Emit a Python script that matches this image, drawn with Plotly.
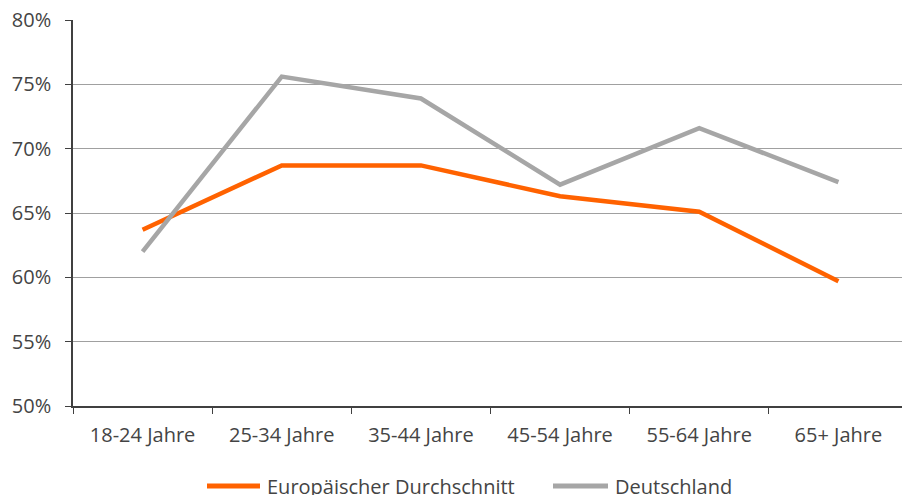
import plotly.graph_objects as go

categories = ["18-24 Jahre", "25-34 Jahre", "35-44 Jahre", "45-54 Jahre", "55-64 Jahre", "65+ Jahre"]
europe = [63.7, 68.7, 68.7, 66.3, 65.1, 59.7]
germany = [62.0, 75.6, 73.9, 67.2, 71.6, 67.4]
series_names = ["Europäischer Durchschnitt", "Deutschland"]
y_ticks = [50, 55, 60, 65, 70, 75, 80]
y_labels = [f"{v}%" for v in y_ticks]

ORANGE = "#FF6200"
GRAY = "#A6A6A6"
TEXT = "#444444"

# page body has an 8px default margin; figure coords = page coords - 8
OFF = 8
W, H = 910, 495
ML, MT = 73 - OFF, 20 - OFF
MR = W - (908 - OFF)
MB = H - (406 - OFF)
PW, PH = W - ML - MR, H - MT - MB

def px(x):
    return (x - OFF - ML) / PW

def py(y):
    return (H - MB - (y - OFF)) / PH

fig = go.Figure()
fig.add_trace(go.Scatter(x=categories, y=europe, mode="lines", name=series_names[0],
                         line=dict(color=ORANGE, width=4.5)))
fig.add_trace(go.Scatter(x=categories, y=germany, mode="lines", name=series_names[1],
                         line=dict(color=GRAY, width=4.5)))

font_family = "Open Sans, Lato, sans-serif"
FS = 20

legend_items = [(series_names[0], ORANGE, 207, 260, 265), (series_names[1], GRAY, 553, 608, 613)]
shapes = []
annotations = []
for name, col, x0, x1, xt in legend_items:
    shapes.append(dict(type="line", xref="paper", yref="paper", x0=px(x0), x1=px(x1),
                       y0=py(486), y1=py(486), line=dict(color=col, width=5)))
    annotations.append(dict(text=name, xref="paper", yref="paper", x=px(xt), y=py(486),
                            xanchor="left", yanchor="middle", showarrow=False,
                            font=dict(size=FS, color=TEXT, family=font_family)))

fig.update_layout(
    width=W, height=H,
    margin=dict(l=ML, r=MR, t=MT, b=MB),
    paper_bgcolor="white", plot_bgcolor="white",
    font=dict(family=font_family, size=FS, color=TEXT),
    showlegend=False,
    shapes=shapes,
    annotations=annotations,
    xaxis=dict(type="category", range=[-0.5, 5.5], showgrid=False, automargin=False,
               showline=True, linecolor="#404040", linewidth=1.5,
               ticks="outside", tickson="boundaries", ticklen=6, tickcolor="#404040",
               tickfont=dict(size=FS), ticklabelstandoff=10),
    yaxis=dict(range=[50, 80], tickvals=y_ticks, ticktext=y_labels, automargin=False,
               showgrid=True, gridcolor="#A0A0A0", gridwidth=1,
               showline=True, linecolor="#404040", linewidth=1.5,
               ticks="outside", ticklen=6, tickcolor="#404040",
               ticklabeloverflow="allow",
               zeroline=False, tickfont=dict(size=FS), ticklabelstandoff=10),
)

fig.write_html("out.html")
